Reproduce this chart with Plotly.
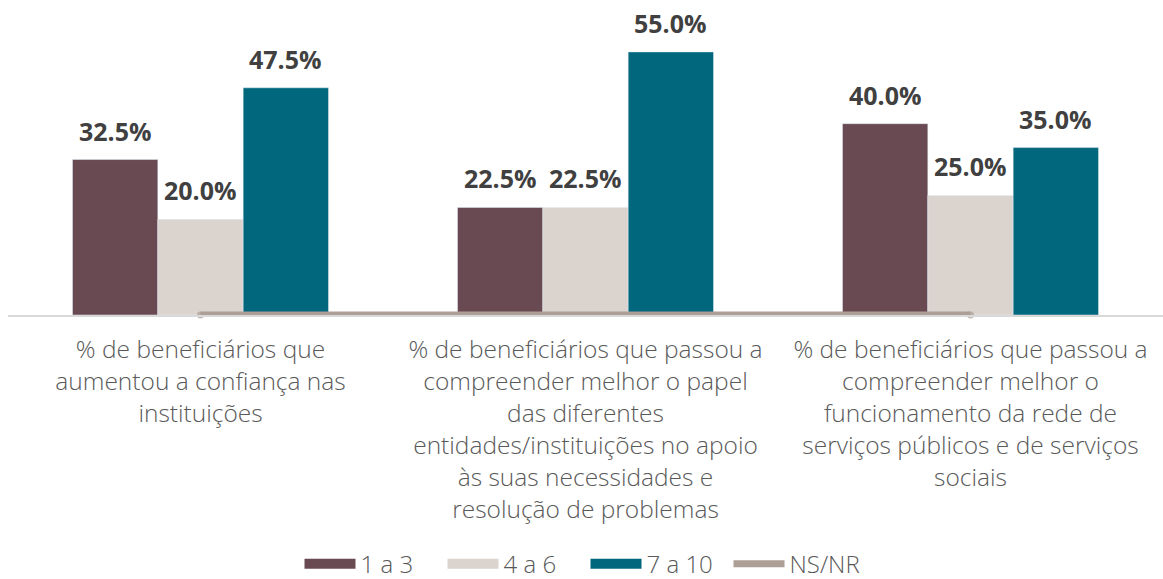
import plotly.graph_objects as go

categories = [
    "% de beneficiários que<br>aumentou a confiança nas<br>instituições",
    "% de beneficiários que passou a<br>compreender melhor o papel<br>das diferentes<br>entidades/instituições no apoio<br>às suas necessidades e<br>resolução de problemas",
    "% de beneficiários que passou a<br>compreender melhor o<br>funcionamento da rede de<br>serviços públicos e de serviços<br>sociais",
]
series_names = ["1 a 3", "4 a 6", "7 a 10", "NS/NR"]
vals_1_3 = [32.5, 22.5, 40.0]
vals_4_6 = [20.0, 22.5, 25.0]
vals_7_10 = [47.5, 55.0, 35.0]
vals_nsnr = [0.0, 0.0, 0.0]

colors = ["#694a52", "#dad3ce", "#00677c", "#ad9e96"]

label_font = dict(family="Open Sans, sans-serif", size=25, color="#404040", weight="bold")
text_font = dict(family="Open Sans, Roboto, sans-serif", size=24.5, color="#595959", weight=300)
legend_font = dict(family="Open Sans, Roboto, sans-serif", size=24, color="#595959", weight=300)

BAR_PX = 85.3  # width of one bar in the group, in pixels

fig = go.Figure()
bar_series = [vals_1_3, vals_4_6, vals_7_10]
for i, (name, vals, col) in enumerate(zip(series_names[:3], bar_series, colors[:3])):
    fig.add_trace(go.Bar(
        x=categories, y=vals, name=name, marker_color=col,
        showlegend=False, legendgroup=name,
    ))
    # wide legend swatch for the bar series
    fig.add_trace(go.Scatter(
        x=[None], y=[None], mode="lines", name=name, legendgroup=name,
        line=dict(color=col, width=14),
    ))
    for cat, v in zip(categories, vals):
        fig.add_annotation(x=cat, y=v, text=f"{v:.1f}%", showarrow=False,
                           xshift=(i - 1) * BAR_PX, yanchor="bottom", yshift=10,
                           font=label_font)

fig.add_trace(go.Scatter(
    x=categories, y=vals_nsnr, name=series_names[3], mode="lines+markers",
    line=dict(color=colors[3], width=7),
    marker=dict(color=colors[3], size=[7, 0, 7], line=dict(width=0)),
    cliponaxis=False, hoverinfo="skip",
))

fig.update_layout(
    width=1163, height=579,
    margin=dict(l=8, r=0, t=28, b=264, autoexpand=False),
    paper_bgcolor="white", plot_bgcolor="white",
    barmode="group", bargap=0.335, bargroupgap=0,
    font=text_font,
    xaxis=dict(showline=True, linecolor="#d9d9d9", linewidth=2, ticks="",
               ticklabelstandoff=12, tickfont=text_font, showgrid=False),
    yaxis=dict(range=[0, 60], visible=False, showgrid=False),
    legend=dict(orientation="h", x=0.5, xanchor="center", y=-0.79, yref="paper",
                yanchor="top", font=legend_font,
                itemwidth=51, entrywidth=77, entrywidthmode="pixels",
                traceorder="normal"),
)

fig.write_html("out.html")
